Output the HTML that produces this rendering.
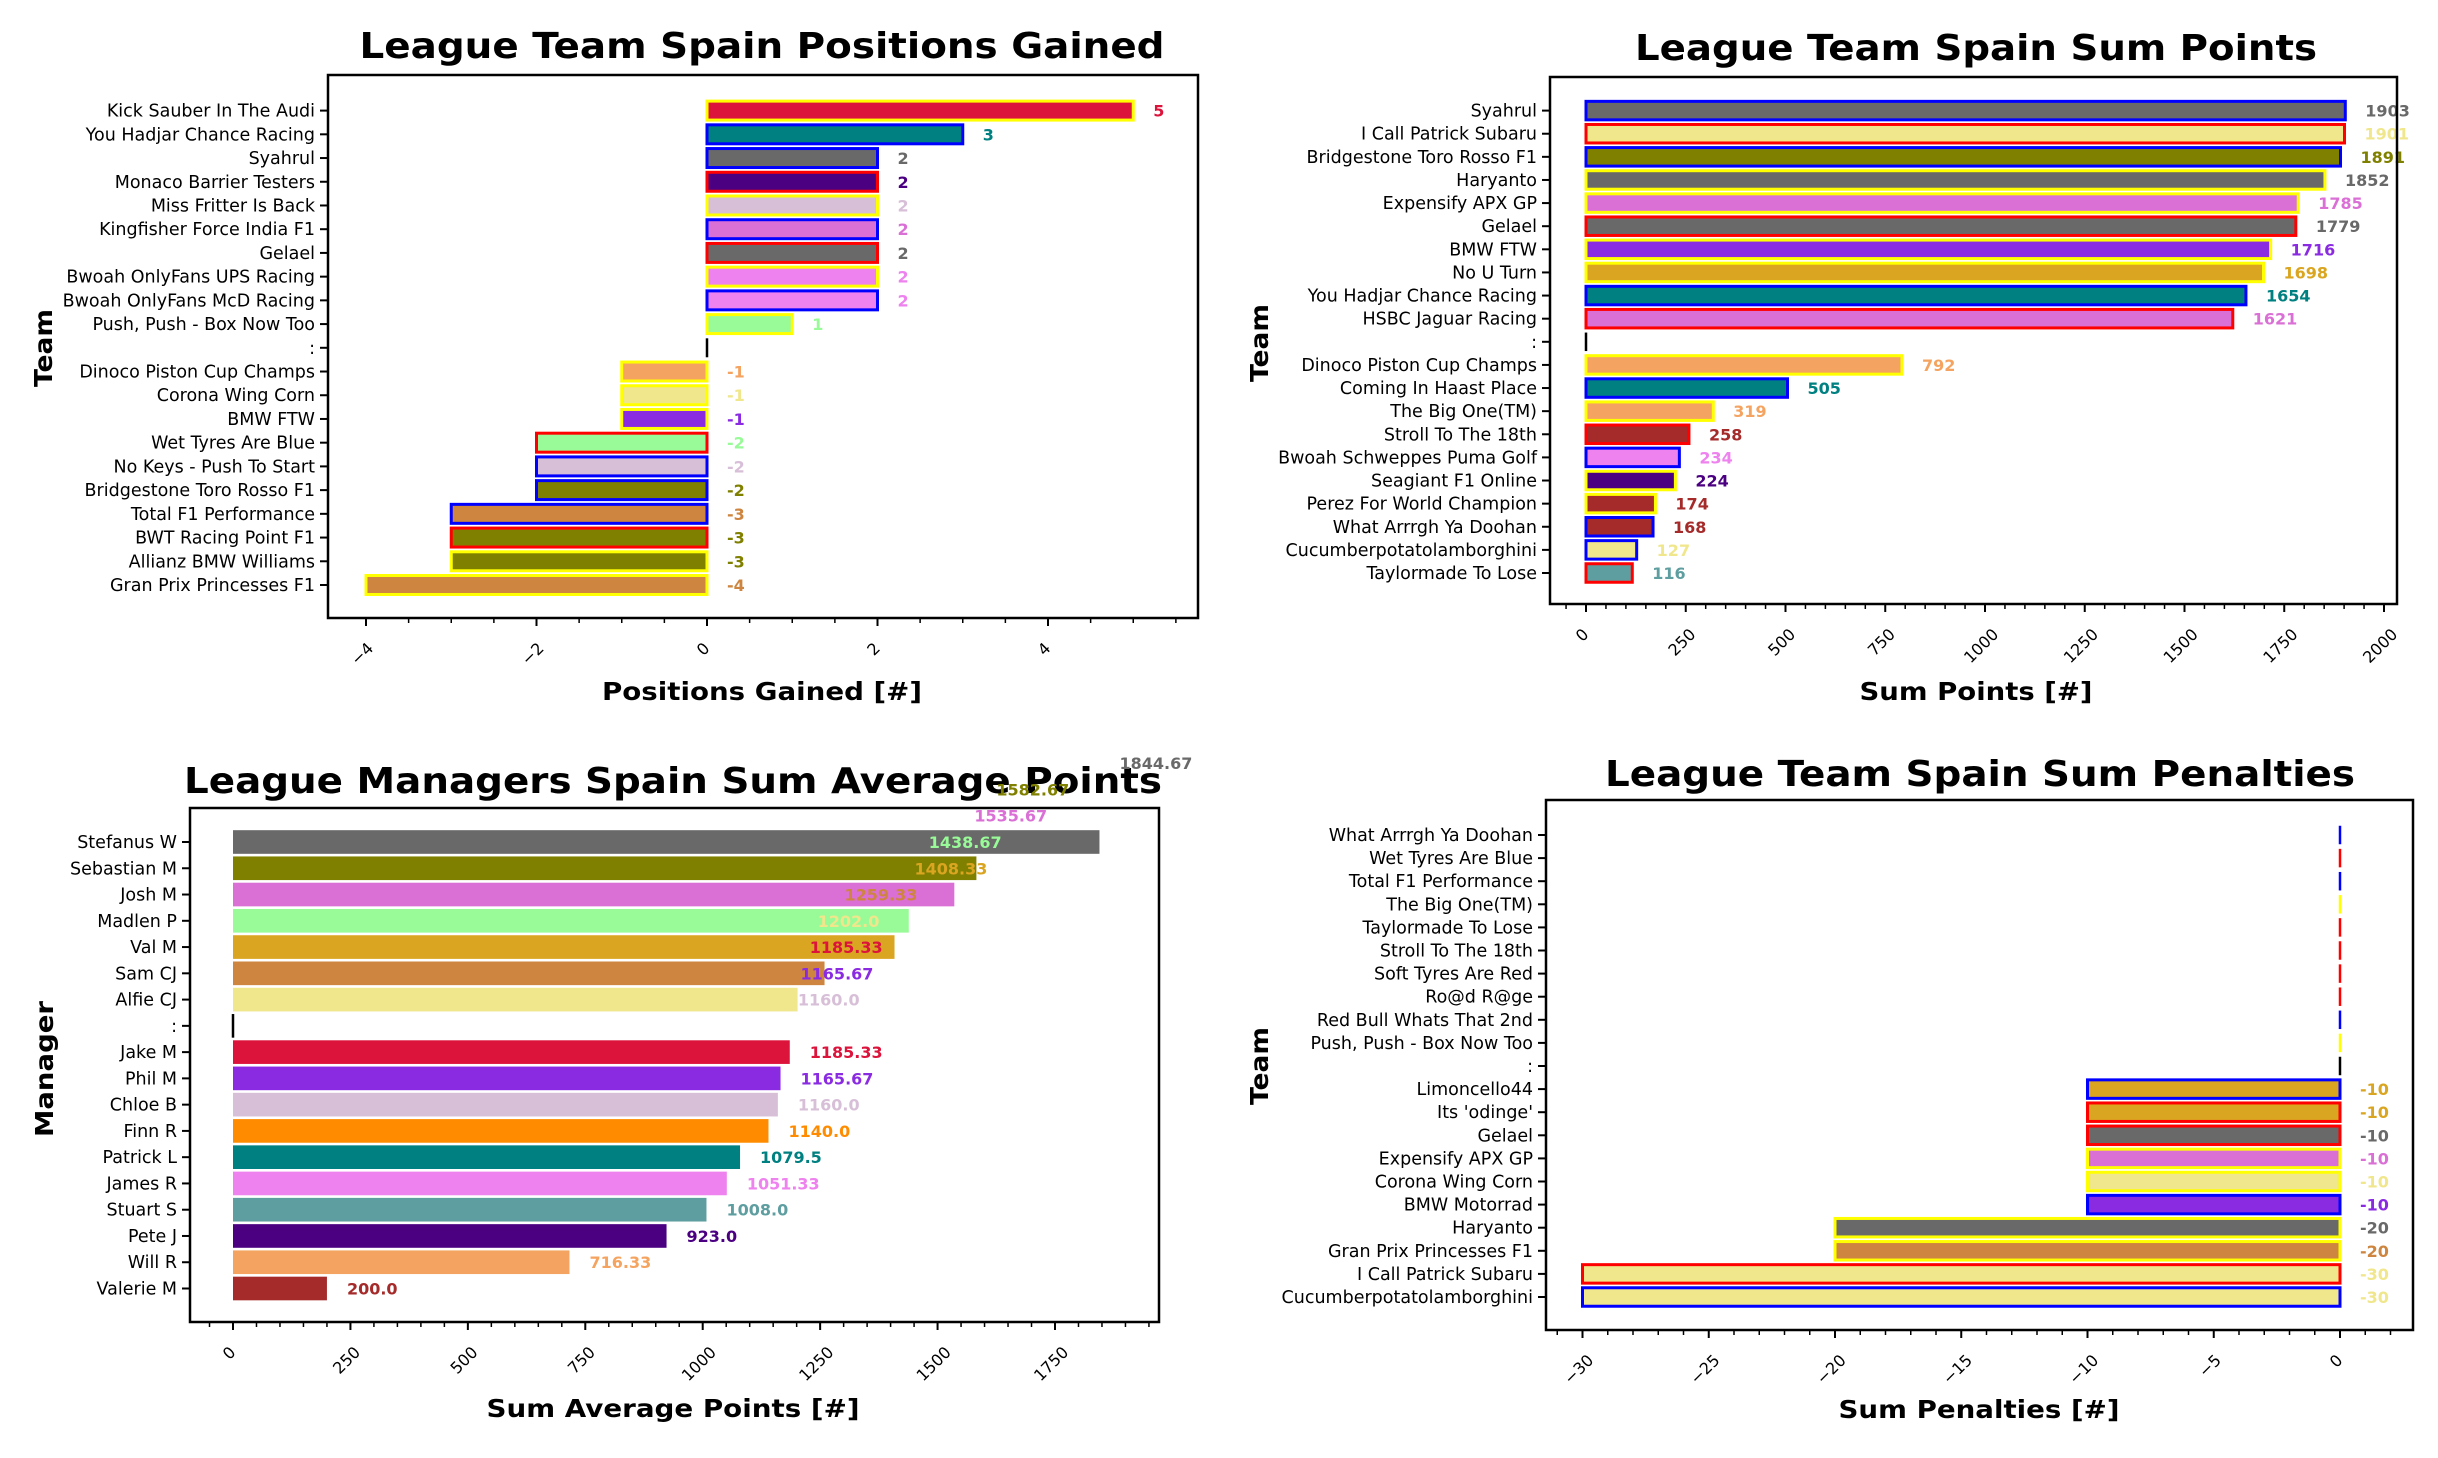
<!DOCTYPE html>
<html><head><meta charset="utf-8"><style>
html,body{margin:0;padding:0;background:#fff}
svg{display:block}
text{font-family:"DejaVu Sans","Liberation Sans",sans-serif}
</style></head><body>
<svg id="fig" width="2438" height="1458" viewBox="0 0 2438 1458" xmlns="http://www.w3.org/2000/svg">
<rect width="2438" height="1458" fill="#fff"/>
</svg>
<script>
// ---- Panel 1: Positions Gained ----
const p1Teams = ["Kick Sauber In The Audi","You Hadjar Chance Racing","Syahrul","Monaco Barrier Testers","Miss Fritter Is Back","Kingfisher Force India F1","Gelael","Bwoah OnlyFans UPS Racing","Bwoah OnlyFans McD Racing","Push, Push - Box Now Too",":","Dinoco Piston Cup Champs","Corona Wing Corn","BMW FTW","Wet Tyres Are Blue","No Keys - Push To Start","Bridgestone Toro Rosso F1","Total F1 Performance","BWT Racing Point F1","Allianz BMW Williams","Gran Prix Princesses F1"];
const p1Values = [5,3,2,2,2,2,2,2,2,1,0,-1,-1,-1,-2,-2,-2,-3,-3,-3,-4];
const p1Fill = ["crimson","teal","dimgray","indigo","thistle","orchid","dimgray","violet","violet","palegreen","none","sandybrown","khaki","blueviolet","palegreen","thistle","olive","peru","olive","olive","peru"];
const p1Edge = ["yellow","blue","blue","red","yellow","blue","red","yellow","blue","yellow","black","yellow","yellow","yellow","red","blue","blue","blue","red","yellow","yellow"];
const p1Ticks = [-4,-2,0,2,4];
const p1TickLabels = ["\u22124","\u22122","0","2","4"];

// ---- Panel 2: Sum Points ----
const p2Teams = ["Syahrul","I Call Patrick Subaru","Bridgestone Toro Rosso F1","Haryanto","Expensify APX GP","Gelael","BMW FTW","No U Turn","You Hadjar Chance Racing","HSBC Jaguar Racing",":","Dinoco Piston Cup Champs","Coming In Haast Place","The Big One(TM)","Stroll To The 18th","Bwoah Schweppes Puma Golf","Seagiant F1 Online","Perez For World Champion","What Arrrgh Ya Doohan","Cucumberpotatolamborghini","Taylormade To Lose"];
const p2Values = [1903,1901,1891,1852,1785,1779,1716,1698,1654,1621,0,792,505,319,258,234,224,174,168,127,116];
const p2Fill = ["dimgray","khaki","olive","dimgray","orchid","dimgray","blueviolet","goldenrod","teal","orchid","none","sandybrown","teal","sandybrown","brown","violet","indigo","brown","brown","khaki","cadetblue"];
const p2Edge = ["blue","red","blue","yellow","yellow","red","yellow","yellow","blue","red","black","yellow","blue","yellow","red","blue","yellow","yellow","blue","blue","red"];
const p2Ticks = [0,250,500,750,1000,1250,1500,1750,2000];
const p2TickLabels = ["0","250","500","750","1000","1250","1500","1750","2000"];

// ---- Panel 3: Managers Sum Average Points ----
const p3Managers = ["Stefanus W","Sebastian M","Josh M","Madlen P","Val M","Sam CJ","Alfie CJ",":","Jake M","Phil M","Chloe B","Finn R","Patrick L","James R","Stuart S","Pete J","Will R","Valerie M"];
const p3Values = [1844.67,1582.67,1535.67,1438.67,1408.33,1259.33,1202.0,0,1185.33,1165.67,1160.0,1140.0,1079.5,1051.33,1008.0,923.0,716.33,200.0];
const p3Fill = ["dimgray","olive","orchid","palegreen","goldenrod","peru","khaki","none","crimson","blueviolet","thistle","darkorange","teal","violet","cadetblue","indigo","sandybrown","brown"];
const p3LabelValues = [1844.67,1582.67,1535.67,1438.67,1408.33,1259.33,1202.0,1185.33,1165.67,1160.0,1185.33,1165.67,1160.0,1140.0,1079.5,1051.33,1008.0,923.0,716.33,200.0];
const p3LabelText = ["1844.67","1582.67","1535.67","1438.67","1408.33","1259.33","1202.0","1185.33","1165.67","1160.0","1185.33","1165.67","1160.0","1140.0","1079.5","1051.33","1008.0","923.0","716.33","200.0"];
const p3LabelRows = [-3,-2,-1,0,1,2,3,4,5,6,8,9,10,11,12,13,14,15,16,17];
const p3LabelColors = ["dimgray","olive","orchid","palegreen","goldenrod","peru","khaki","crimson","blueviolet","thistle","crimson","blueviolet","thistle","darkorange","teal","violet","cadetblue","indigo","sandybrown","brown"];
const p3Ticks = [0,250,500,750,1000,1250,1500,1750];
const p3TickLabels = ["0","250","500","750","1000","1250","1500","1750"];

// ---- Panel 4: Sum Penalties ----
const p4Teams = ["What Arrrgh Ya Doohan","Wet Tyres Are Blue","Total F1 Performance","The Big One(TM)","Taylormade To Lose","Stroll To The 18th","Soft Tyres Are Red","Ro@d R@ge","Red Bull Whats That 2nd","Push, Push - Box Now Too",":","Limoncello44","Its 'odinge'","Gelael","Expensify APX GP","Corona Wing Corn","BMW Motorrad","Haryanto","Gran Prix Princesses F1","I Call Patrick Subaru","Cucumberpotatolamborghini"];
const p4Values = [0,0,0,0,0,0,0,0,0,0,0,-10,-10,-10,-10,-10,-10,-20,-20,-30,-30];
const p4Fill = ["none","none","none","none","none","none","none","none","none","none","none","goldenrod","goldenrod","dimgray","orchid","khaki","blueviolet","dimgray","peru","khaki","khaki"];
const p4Edge = ["blue","red","blue","yellow","red","red","red","red","blue","yellow","black","blue","red","red","yellow","yellow","blue","yellow","yellow","red","blue"];
const p4Ticks = [-30,-25,-20,-15,-10,-5,0];
const p4TickLabels = ["\u221230","\u221225","\u221220","\u221215","\u221210","\u22125","0"];

const NS = "http://www.w3.org/2000/svg";
const fig = document.getElementById('fig');
function mk(tag, attrs, parent){
  const e = document.createElementNS(NS, tag);
  for (const k in attrs) e.setAttribute(k, attrs[k]);
  (parent||fig).appendChild(e);
  return e;
}
function linScale(d0,d1,r0,r1){ return v => r0 + (v-d0)*(r1-r0)/(d1-d0); }

function drawPanel(c){
  const g = mk('g', {});
  
  
  const x = linScale(c.xd[0], c.xd[1], c.xr[0], c.xr[1]);
  const y = linScale(0, c.n-1, c.y0, c.y1);
  const step = (c.y1 - c.y0)/(c.n-1);
  const bh = step * c.hfrac;
  const t = mk('text', {x:c.titleX, y:c.titleY, 'text-anchor':'middle', 'font-size':36, 'font-weight':'bold', textLength:c.titleW, lengthAdjust:'spacingAndGlyphs'}, g);
  t.textContent = c.title;
  
  
  for (let i=0;i<c.n;i++){
    const v = c.values[i];
    const x0 = x(Math.min(0,v)), x1 = x(Math.max(0,v));
    const edge = c.edge ? c.edge[i] : (c.fill[i]==='none' ? 'black' : 'none');
    if (v === 0){
      const ln = mk('line', {x1:x(0), x2:x(0), y1:y(i)-bh/2, y2:y(i)+bh/2, stroke:edge, 'stroke-width':2.5}, g);
      
      
    } else {
      const r = mk('rect', {x:x0, y:y(i)-bh/2, width:x1-x0, height:bh, fill:c.fill[i], stroke:edge, 'stroke-width':c.edge?3:0}, g);
      
      
    }
  }
  if (c.labels){
    for (let k=0;k<c.labels.vals.length;k++){
      const lv = c.labels.vals[k];
      const lt = mk('text', {x:x(Math.max(0,lv))+20, y:y(c.labels.rows[k])+6, 'font-size':16, 'font-weight':'bold', fill:c.labels.colors[k]}, g);
      lt.textContent = c.labels.text[k];
      
      
    }
  } else {
    for (let i=0;i<c.n;i++){
      if (c.values[i]===0) continue;
      const lt = mk('text', {x:x(Math.max(0,c.values[i]))+20, y:y(i)+6, 'font-size':16, 'font-weight':'bold', fill:c.fill[i]}, g);
      lt.textContent = String(c.values[i]);
      
      
    }
  }
  const L=c.box[0], T=c.box[1], R=c.box[2], B=c.box[3];
  const fr = mk('rect', {x:L, y:T, width:R-L, height:B-T, fill:'none', stroke:'#000', 'stroke-width':2.5}, g);
  
  
  for (let i=0;i<c.n;i++){
    mk('line', {x1:L-8, x2:L, y1:y(i), y2:y(i), stroke:'#000', 'stroke-width':2}, g);
    const tl = mk('text', {x:L-13, y:y(i)+6, 'text-anchor':'end', 'font-size':17.5}, g);
    tl.textContent = c.cats[i];
    
    
  }
  const dmin = c.xd[0] + (L - c.xr[0])*(c.xd[1]-c.xd[0])/(c.xr[1]-c.xr[0]);
  const dmax = c.xd[0] + (R - c.xr[0])*(c.xd[1]-c.xd[0])/(c.xr[1]-c.xr[0]);
  for (let v=Math.ceil(dmin/c.minor)*c.minor; v<=dmax; v+=c.minor){
    mk('line', {x1:x(v), x2:x(v), y1:B, y2:B+5, stroke:'#000', 'stroke-width':1.5}, g);
  }
  for (let k=0;k<c.ticks.length;k++){
    const tx = x(c.ticks[k]);
    mk('line', {x1:tx, x2:tx, y1:B, y2:B+8, stroke:'#000', 'stroke-width':2}, g);
    const tl = mk('text', {x:0, y:0, 'text-anchor':'middle', 'font-size':16}, g);
    tl.textContent = c.tickLabels[k];
    const w = tl.getComputedTextLength ? tl.getComputedTextLength() : c.tickLabels[k].length*10;
    const cy = B + 22 + (w + 12)*0.354;
    tl.setAttribute('transform', 'translate(' + tx + ',' + (cy+5) + ') rotate(-45)');
    
    
  }
  const xl = mk('text', {x:c.xlab[0], y:c.xlab[1], 'text-anchor':'middle', 'font-size':25, 'font-weight':'bold', textLength:c.xlab[2], lengthAdjust:'spacingAndGlyphs'}, g);
  xl.textContent = c.xlabel;
  
  
  const yl = mk('text', {x:0, y:0, 'text-anchor':'middle', 'font-size':25, 'font-weight':'bold', textLength:c.ylab[2], lengthAdjust:'spacingAndGlyphs', transform:'translate(' + c.ylab[0] + ',' + c.ylab[1] + ') rotate(-90)'}, g);
  yl.textContent = c.ylabel;
  
  
}

drawPanel({name:'positions-gained-chart', title:'League Team Spain Positions Gained', titleX:762, titleY:58, titleW:805,
  cats:p1Teams, values:p1Values, fill:p1Fill, edge:p1Edge, n:21, y0:110.6, y1:585, hfrac:0.8,
  xd:[0,4], xr:[707,1048], box:[328,75,1198,618], ticks:p1Ticks, tickLabels:p1TickLabels, minor:0.5,
  xlabel:'Positions Gained [#]', xlab:[762,700,320], ylabel:'Team', ylab:[52,348,78]});

drawPanel({name:'sum-points-chart', title:'League Team Spain Sum Points', titleX:1976, titleY:60, titleW:682,
  cats:p2Teams, values:p2Values, fill:p2Fill, edge:p2Edge, n:21, y0:110.6, y1:573, hfrac:0.8,
  xd:[0,2000], xr:[1586,2384], box:[1550,77,2397,604], ticks:p2Ticks, tickLabels:p2TickLabels, minor:50,
  xlabel:'Sum Points [#]', xlab:[1976,700,233], ylabel:'Team', ylab:[1268,343,78]});

drawPanel({name:'manager-average-points-chart', title:'League Managers Spain Sum Average Points', titleX:673, titleY:793, titleW:978,
  cats:p3Managers, values:p3Values, fill:p3Fill, edge:null, n:18, y0:842, y1:1288.5, hfrac:0.9,
  labels:{vals:p3LabelValues, text:p3LabelText, rows:p3LabelRows, colors:p3LabelColors},
  xd:[0,1750], xr:[233,1055], box:[190,808,1159,1322], ticks:p3Ticks, tickLabels:p3TickLabels, minor:50,
  xlabel:'Sum Average Points [#]', xlab:[673,1417,373], ylabel:'Manager', ylab:[53,1069,136]});

drawPanel({name:'sum-penalties-chart', title:'League Team Spain Sum Penalties', titleX:1980, titleY:786, titleW:750,
  cats:p4Teams, values:p4Values, fill:p4Fill, edge:p4Edge, n:21, y0:835, y1:1297, hfrac:0.8,
  xd:[-30,0], xr:[1582.5,2340], box:[1546,800,2413,1330], ticks:p4Ticks, tickLabels:p4TickLabels, minor:1,
  xlabel:'Sum Penalties [#]', xlab:[1979,1418,281], ylabel:'Team', ylab:[1268,1066,78]});
</script>
</body></html>
